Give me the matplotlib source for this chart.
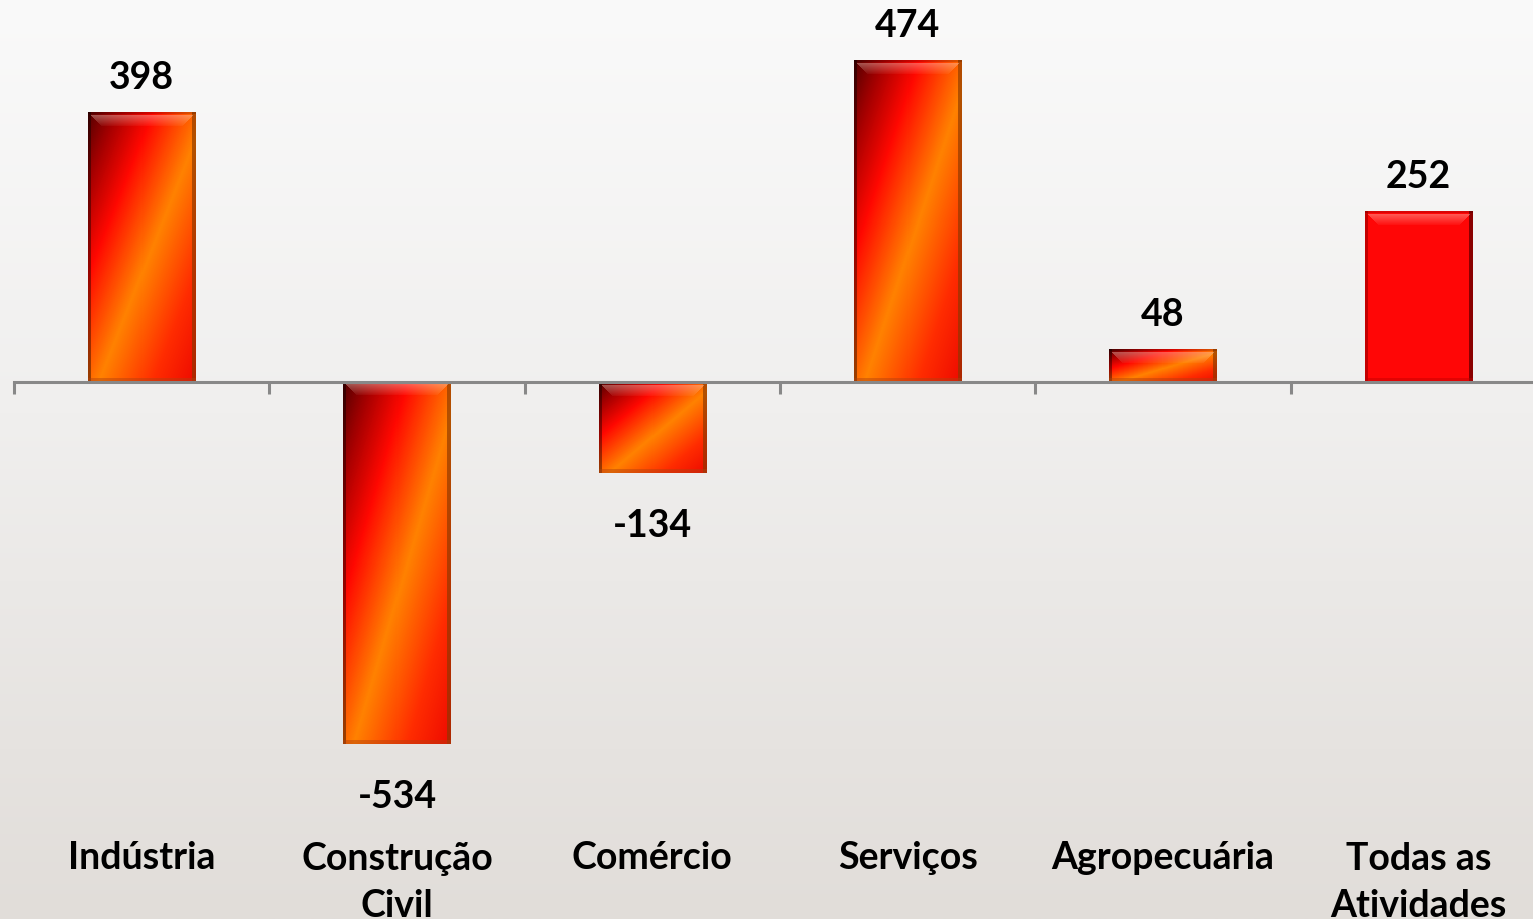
import numpy as np
import matplotlib
matplotlib.use("Agg")
import matplotlib.pyplot as plt
from matplotlib.colors import LinearSegmentedColormap, to_rgb
from matplotlib.transforms import blended_transform_factory

categories = ["Indústria", "Construção\nCivil", "Comércio", "Serviços", "Agropecuária", "Todas as\nAtividades"]
values = [398, -534, -134, 474, 48, 252]
value_labels = ["398", "-534", "-134", "474", "48", "252"]
solid_last = [False, False, False, False, False, True]

FONT = ["Lato", "DejaVu Sans"]
FS = 27
W_PX, H_PX = 1533, 920
fig = plt.figure(figsize=(W_PX / 100, H_PX / 100), dpi=100)

# background gradient
bg = fig.add_axes([0, 0, 1, 1], zorder=-10)
top_c = np.array(to_rgb("#fafafa"))
mid_c = np.array(to_rgb("#f0efee"))
bot_c = np.array(to_rgb("#e1ddd9"))
t = np.linspace(0, 1, 400)[:, None]
grad = np.where(t < 0.45, top_c + (mid_c - top_c) * (t / 0.45),
                mid_c + (bot_c - mid_c) * ((t - 0.45) / 0.55))
bg.imshow(grad[:, None, :].repeat(2, axis=1).reshape(400, 2, 3), aspect="auto", extent=(0, 1, 0, 1))
bg.set_axis_off()

ax = fig.add_axes([14 / W_PX, 0, 1532 / W_PX, 1])
ax.set_facecolor("none")
ax.set_xlim(-0.5, 5.5)
ax.set_ylim(-792, 565)

x = np.arange(len(values))
bars = ax.bar(x, values, width=0.42, color="none", edgecolor="none", zorder=2)

fire = LinearSegmentedColormap.from_list("fire", [
    (0.0, "#560000"), (0.12, "#a00000"), (0.3, "#ff0800"),
    (0.55, "#ff8200"), (0.8, "#ff2c00"), (1.0, "#ee0a00")])

fig.canvas.draw()
for rect, solid in zip(bars, solid_last):
    x0, y0 = rect.get_x(), rect.get_y()
    w, h = rect.get_width(), rect.get_height()
    ylo, yhi = min(y0, y0 + h), max(y0, y0 + h)
    p0 = ax.transData.transform((x0, ylo))
    p1 = ax.transData.transform((x0 + w, yhi))
    Wp = max(int(round(p1[0] - p0[0])), 4)
    Hp = max(int(round(p1[1] - p0[1])), 4)
    u = np.linspace(0, 1, Wp)[None, :]
    v = np.linspace(0, 1, Hp)[:, None]
    if solid:
        img = np.ones((Hp, Wp, 3)) * np.array(to_rgb("#ff0606"))
        img[:, :3] = to_rgb("#c40000")
        img[:, -4:] = to_rgb("#8a0000")
    else:
        tt = (u + v) / 2.0
        img = fire(tt)[:, :, :3]
        img[:, :3] *= 0.6
        img[:, -4:] = img[:, -4:] * 0.35 + np.array(to_rgb("#8a3800")) * 0.65
    # top bevel highlight (trapezoid)
    for r in range(3, min(14, Hp)):
        c0 = 3 + (r - 3)
        c1 = Wp - 3 - (r - 3)
        if c1 > c0:
            a = 0.38 * (1 - (r - 3) / 12)
            img[r, c0:c1] = img[r, c0:c1] * (1 - a) + a * np.array([1.0, 0.85, 0.8])
    img[:2, :] *= 0.85
    # bottom bevel
    nb = min(4, Hp // 3)
    if nb > 0:
        img[-nb:, :] = img[-nb:, :] * 0.55 + np.array(to_rgb("#b04010" if not solid else "#c00000")) * 0.45
    ax.imshow(np.clip(img, 0, 1), extent=(x0, x0 + w, ylo, yhi), aspect="auto",
              origin="upper", zorder=2, interpolation="nearest")

# value labels
for xi, val, lab in zip(x, values, value_labels):
    off = 17.5 if val >= 0 else -45.5
    ax.annotate(lab, (xi, val), xytext=(0, off), textcoords="offset points",
                ha="center", va="baseline", fontsize=FS, fontweight="bold",
                family=FONT, color="black")

# category labels (va='baseline' anchors the last line)
trans = blended_transform_factory(ax.transData, fig.transFigure)
for xi, cat in zip(x, categories):
    nlines = cat.count("\n") + 1
    base_px = 869 + 48 * (nlines - 1)
    ax.text(xi, 1 - base_px / H_PX, cat, transform=trans, ha="center", va="baseline",
            fontsize=FS, fontweight="bold", family=FONT, color="black",
            linespacing=1.48)

# axis
for s in ["top", "right", "left"]:
    ax.spines[s].set_visible(False)
ax.spines["bottom"].set_position(("data", 0))
ax.spines["bottom"].set_color("#888888")
ax.spines["bottom"].set_linewidth(2.2)
ax.spines["bottom"].set_zorder(3)
ax.set_xticks([])
ax.set_xticks(np.arange(-0.5, 6.0, 1.0), minor=True)
ax.tick_params(axis="x", which="minor", direction="out", length=8.6, width=2.2,
               color="#888888", labelbottom=False)
ax.set_yticks([])

fig.savefig("out.png", dpi=100)
